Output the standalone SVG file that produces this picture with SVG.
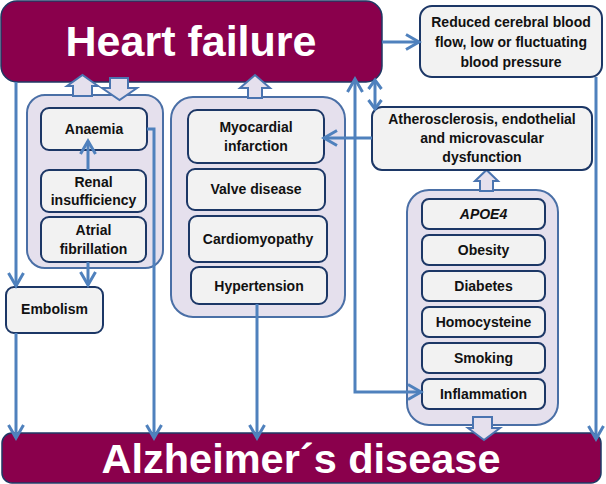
<svg xmlns="http://www.w3.org/2000/svg" width="606" height="484" viewBox="0 0 606 484">
<defs>
<style>
.big{fill:#8a004c;stroke:#1f3864;stroke-width:1.5}
.bigt{font-family:"Liberation Sans",Arial,sans-serif;font-weight:bold;fill:#fff;text-anchor:middle}
.grp{fill:#e5e0ed;stroke:#4a6fa6;stroke-width:2}
.blk{fill:#e5e0ed;stroke:#4a74b0;stroke-width:2;stroke-linejoin:miter}
.box{fill:#f2f2f2;stroke:#1c3766;stroke-width:2}
.t{font-family:"Liberation Sans",Arial,sans-serif;font-weight:bold;font-size:14px;fill:#111;text-anchor:middle}
.c{fill:none;stroke:#4f81bd;stroke-width:3}
</style>
<marker id="ah" markerUnits="userSpaceOnUse" markerWidth="17" markerHeight="18" refX="14" refY="9" orient="auto-start-reverse" viewBox="0 0 17 18">
<path d="M1,1.5 L14,9 L1,16.5" fill="none" stroke="#4f81bd" stroke-width="3"/>
</marker>
<marker id="ahs" markerUnits="userSpaceOnUse" markerWidth="13" markerHeight="16" refX="10" refY="8" orient="auto-start-reverse" viewBox="0 0 13 16">
<path d="M1,1.5 L10,8 L1,14.5" fill="none" stroke="#4f81bd" stroke-width="3"/>
</marker>
</defs>

<g id="heart-failure">
<rect class="big" x="1" y="1" width="381" height="81" rx="16"/>
<text class="bigt" x="191" y="56" style="font-size:43px">Heart failure</text>
</g>
<g id="alzheimers">
<rect class="big" x="2" y="433" width="599" height="50" rx="10"/>
<text class="bigt" x="301" y="473" style="font-size:41.5px">Alzheimer´s disease</text>
</g>

<g id="group-left">
<rect class="grp" x="27" y="95" width="136" height="173" rx="18"/>
</g>
<g id="group-middle">
<rect class="grp" x="171" y="97" width="174" height="220" rx="22"/>
</g>
<g id="group-right">
<rect class="grp" x="407" y="190" width="151" height="235" rx="22"/>
</g>

<g id="block-arrows">
<polygon class="blk" points="73,96 73,86 67,86 82.5,75 98,86 92,86 92,96"/>
<polygon class="blk" points="110,78 128,78 128,88 137,88 119.5,100 102,88 110,88"/>
<polygon class="blk" points="248,98 248,88 240,88 255,75 270,88 262,88 262,98"/>
<polygon class="blk" points="480,191 480,181 475,181 486.5,170 498,181 493,181 493,191"/>
<polygon class="blk" points="473,417 492,417 492,428 500,428 484,440 468,428 473,428"/>
</g>

<g id="anaemia"><rect class="box" x="41" y="108" width="106" height="42" rx="8"/><text class="t" x="94" y="134">Anaemia</text></g>
<g id="renal"><rect class="box" x="41" y="170" width="105" height="42" rx="8"/><text class="t" x="93.5" y="187">Renal</text><text class="t" x="93.5" y="205">insufficiency</text></g>
<g id="atrial"><rect class="box" x="41" y="217" width="105" height="45" rx="8"/><text class="t" x="93.5" y="235">Atrial</text><text class="t" x="93.5" y="254">fibrillation</text></g>
<g id="embolism"><rect class="box" x="6" y="287" width="97" height="46" rx="8"/><text class="t" x="54.5" y="314">Embolism</text></g>

<g id="myocardial"><rect class="box" x="188" y="110" width="136" height="53" rx="9"/><text class="t" x="256" y="132">Myocardial</text><text class="t" x="256" y="151">infarction</text></g>
<g id="valve"><rect class="box" x="187" y="169" width="138" height="41" rx="8"/><text class="t" x="256" y="194">Valve disease</text></g>
<g id="cardiomyopathy"><rect class="box" x="189" y="216" width="138" height="46" rx="8"/><text class="t" x="258" y="244">Cardiomyopathy</text></g>
<g id="hypertension"><rect class="box" x="191" y="267" width="136" height="37" rx="8"/><text class="t" x="259" y="291">Hypertension</text></g>

<g id="reduced"><rect class="box" x="420" y="6" width="182" height="71" rx="12"/><text class="t" x="511" y="27">Reduced cerebral blood</text><text class="t" x="511" y="47">flow, low or fluctuating</text><text class="t" x="511" y="67">blood pressure</text></g>
<g id="athero"><rect class="box" x="372" y="107" width="220" height="63" rx="10"/><text class="t" x="482" y="124">Atherosclerosis, endothelial</text><text class="t" x="482" y="143">and microvascular</text><text class="t" x="482" y="162">dysfunction</text></g>

<g id="apoe4"><rect class="box" x="422" y="199" width="123" height="30" rx="7"/><text class="t" x="483.5" y="219" style="font-style:italic">APOE4</text></g>
<g id="obesity"><rect class="box" x="422" y="235" width="123" height="30" rx="7"/><text class="t" x="483.5" y="255">Obesity</text></g>
<g id="diabetes"><rect class="box" x="422" y="271" width="123" height="30" rx="7"/><text class="t" x="483.5" y="291">Diabetes</text></g>
<g id="homocysteine"><rect class="box" x="422" y="307" width="123" height="30" rx="7"/><text class="t" x="483.5" y="327">Homocysteine</text></g>
<g id="smoking"><rect class="box" x="422" y="343" width="123" height="30" rx="7"/><text class="t" x="483.5" y="363">Smoking</text></g>
<g id="inflammation"><rect class="box" x="422" y="379" width="123" height="30" rx="7"/><text class="t" x="483.5" y="399">Inflammation</text></g>

<g id="connectors">
<line class="c" x1="382" y1="42" x2="419" y2="42" marker-end="url(#ah)"/>
<line class="c" x1="596" y1="77" x2="596" y2="439" marker-end="url(#ah)"/>
<line class="c" x1="16" y1="82" x2="16" y2="286" marker-end="url(#ah)"/>
<line class="c" x1="16" y1="333" x2="16" y2="438" marker-end="url(#ah)"/>
<polyline class="c" points="147,129 154,129 154,438" marker-end="url(#ah)"/>
<line class="c" x1="88" y1="170" x2="88" y2="141" marker-end="url(#ah)"/>
<line class="c" x1="88" y1="262" x2="88" y2="285" marker-end="url(#ah)"/>
<line class="c" x1="257" y1="304" x2="257" y2="438" marker-end="url(#ah)"/>
<line class="c" x1="372" y1="138" x2="324" y2="138" marker-end="url(#ah)"/>
<polyline class="c" points="355,79 355,392 421,392" marker-start="url(#ah)" marker-end="url(#ah)"/>
<line class="c" x1="375" y1="80" x2="375" y2="109" marker-start="url(#ahs)" marker-end="url(#ahs)"/>
</g>
</svg>
